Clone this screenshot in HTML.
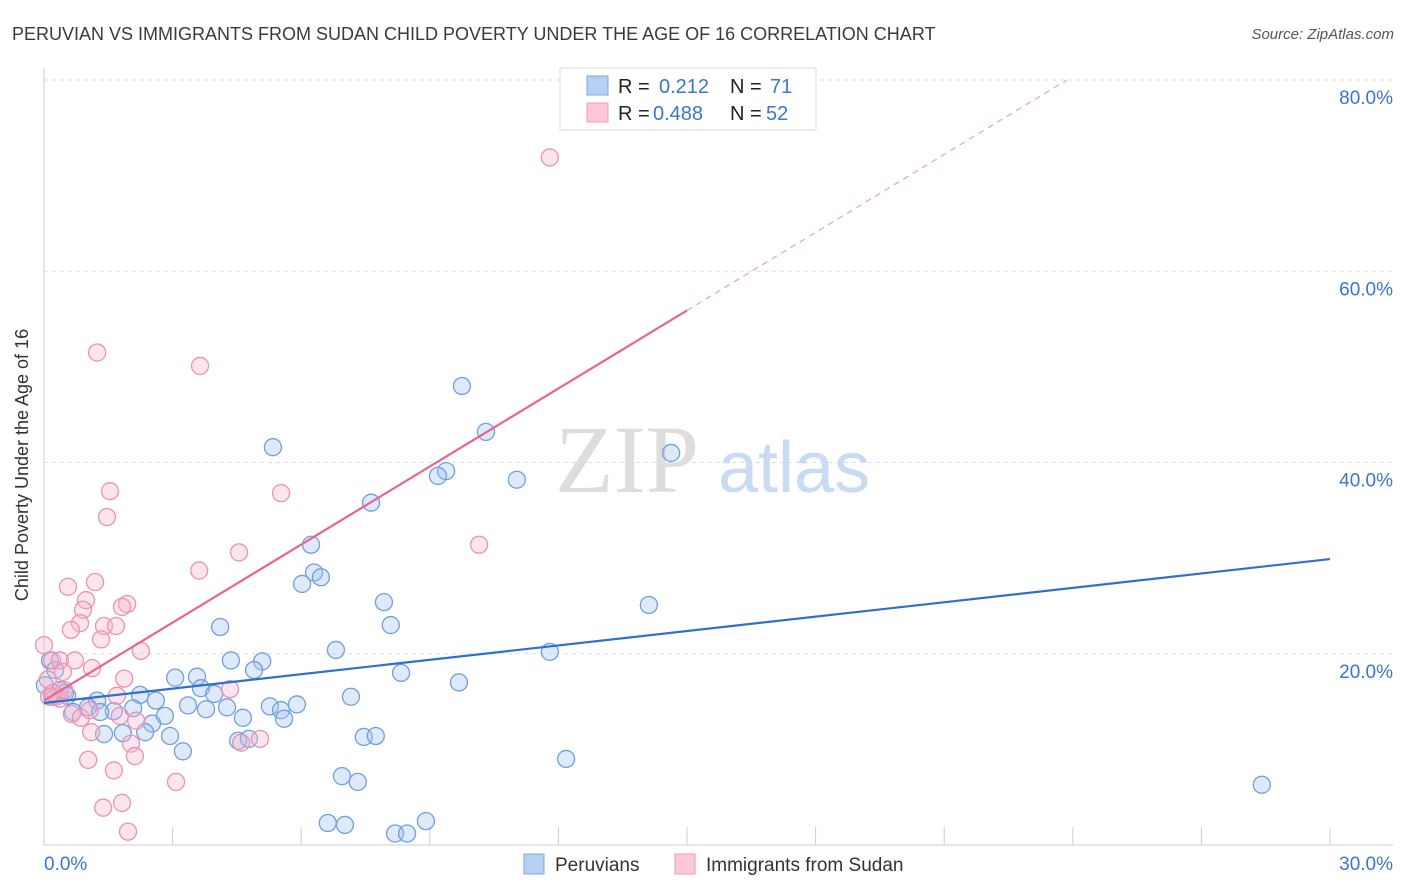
<!DOCTYPE html>
<html><head><meta charset="utf-8"><style>
body{margin:0;background:#fff;font-family:"Liberation Sans",sans-serif;}
svg{display:block}
</style></head><body>
<svg id="chart" width="1406" height="892" viewBox="0 0 1406 892">
<text x="12" y="40" font-size="18" fill="#3a3a3a">PERUVIAN VS IMMIGRANTS FROM SUDAN CHILD POVERTY UNDER THE AGE OF 16 CORRELATION CHART</text>
<text x="1394" y="39" font-size="15" fill="#555" font-style="italic" text-anchor="end">Source: ZipAtlas.com</text>
<g id="grid"></g>
<text x="555" y="492" font-size="96" fill="#ddd" font-family="Liberation Serif,serif">ZIP</text>
<text x="718" y="492" font-size="72" fill="#c9dbf3">atlas</text>
<g id="axes"></g>
<g id="pts"></g>
<g id="lines"></g>
<text x="18" y="455" font-size="18" fill="#333" transform="rotate(-90 28 455)" text-anchor="middle">Child Poverty Under the Age of 16</text>
<g>
<rect x="560" y="68" width="256" height="62" fill="#fff" stroke="#ddd"/>
<rect x="587" y="76" width="21" height="19" fill="#b5d0f3" stroke="#7ea8e0"/>
<rect x="587" y="103" width="21" height="19" fill="#fcc8d8" stroke="#ee9ab5"/>
<text x="618" y="93" font-size="20" fill="#222">R = </text><text x="659" y="93" font-size="20" fill="#3b74d0">0.212</text>
<text x="730" y="93" font-size="20" fill="#222">N = </text><text x="770" y="93" font-size="20" fill="#3b74d0">71</text>
<text x="618" y="120" font-size="20" fill="#222">R = </text><text x="653" y="120" font-size="20" fill="#3b74d0">0.488</text>
<text x="730" y="120" font-size="20" fill="#222">N = </text><text x="766" y="120" font-size="20" fill="#3b74d0">52</text>
</g>
<g>
<rect x="524" y="854" width="20" height="20" fill="#b5d0f3" stroke="#7ea8e0"/>
<text x="555" y="871" font-size="19" fill="#333">Peruvians</text>
<rect x="675" y="854" width="20" height="20" fill="#fcc8d8" stroke="#ee9ab5"/>
<text x="706" y="871" font-size="19" fill="#333">Immigrants from Sudan</text>
</g>
</svg>
<script>
const yTicks=[20,40,60,80];
const yTickLabels=["20.0%","40.0%","60.0%","80.0%"];
const xTickCount=[1,2,3,4,5,6,7,8,9,10];
const blueX=[9.75,10.31,5.34,14.63,9.38,9.19,11.03,7.63,6.23,6.30,6.46,6.02,7.93,14.11,8.09,4.11,6.81,11.80,5.09,4.36,4.90,8.33,3.06,3.57,9.68,3.66,7.16,3.97,2.24,5.90,2.61,3.36,5.27,5.53,5.60,3.78,4.27,1.24,1.63,2.08,2.82,4.64,2.52,0.68,1.03,1.84,1.40,2.36,2.94,4.53,4.78,7.46,7.74,3.24,12.18,6.95,7.32,28.41,6.62,7.02,8.91,8.19,8.47,0.14,0.26,0.37,0.49,0.19,0.54,0.02,1.31];
const blueY=[48.0,43.2,41.6,41.0,39.1,38.6,38.2,35.8,31.4,28.5,28.0,27.3,25.4,25.1,23.0,22.8,20.4,20.2,19.2,19.3,18.3,18.0,17.5,17.6,17.0,16.4,15.5,15.8,15.7,14.7,15.1,14.6,14.5,14.1,13.2,14.2,14.4,15.1,14.0,14.3,13.5,13.3,12.7,13.9,14.4,11.7,11.6,11.8,11.4,10.9,11.1,11.3,11.4,9.8,9.0,7.2,6.6,6.3,2.3,2.1,2.5,1.2,1.2,19.3,18.3,16.2,15.9,15.5,15.6,16.7,13.9];
const pinkX=[11.80,1.24,3.64,1.54,5.53,1.47,4.55,10.15,3.62,0.56,1.19,0.98,1.94,1.82,0.91,0.84,0.63,1.40,1.68,1.33,2.26,0,0.19,0.37,0.72,1.12,0.44,1.87,4.34,1.70,0.28,0.37,0.12,0.65,0.86,2.15,1.10,5.04,4.60,2.03,2.12,1.03,1.63,3.08,1.82,1.38,1.96,0.09,0.47,0.21,1.07,1.77];
const pinkY=[71.9,51.5,50.1,37.0,36.8,34.3,30.6,31.4,28.7,27.0,27.5,25.6,25.2,24.9,24.6,23.2,22.5,22.9,22.9,21.5,20.3,20.9,19.3,19.3,19.3,18.5,18.1,17.4,16.3,15.6,15.5,15.3,15.5,13.7,13.3,13.0,11.8,11.1,10.7,10.6,9.3,8.9,7.8,6.6,4.4,3.9,1.4,17.3,16.2,15.9,14.1,13.5];
const blueTrend=[14.85,29.9];
const pinkTrend=[15.1,55.9];
const NS="http://www.w3.org/2000/svg";
const X0=44,X1=1330,Y0=845,PXY=9.5625;
const sx=v=>X0+(v/30)*(X1-X0);
const sy=v=>Y0-v*PXY;
function mk(tag,attrs,parent){const e=document.createElementNS(NS,tag);for(const k in attrs)e.setAttribute(k,attrs[k]);document.getElementById(parent).appendChild(e);return e;}
yTicks.forEach((t,i)=>{
 const g=mk('line',{x1:X0,x2:1393,y1:sy(t),y2:sy(t),stroke:'#ddd','stroke-dasharray':'4,4'},'grid');
 
 
 const l=mk('text',{x:1393,y:sy(t)+24,'font-size':19,fill:'#3b74d0','text-anchor':'end'},'grid');
 l.textContent=yTickLabels[i];
 
 
});
mk('line',{x1:X0,x2:X0,y1:68,y2:Y0,stroke:'#ccc'},'axes');
mk('line',{x1:X0,x2:1393,y1:Y0,y2:Y0,stroke:'#ccc'},'axes');
xTickCount.forEach(i=>{
 const t=mk('line',{x1:sx(i*3),x2:sx(i*3),y1:Y0,y2:Y0-18,stroke:'#ccc'},'axes');
 
 
});
const xl0=mk('text',{x:X0,y:870,'font-size':19,fill:'#3b74d0'},'axes');xl0.textContent='0.0%';


const xl1=mk('text',{x:1393,y:870,'font-size':19,fill:'#3b74d0','text-anchor':'end'},'axes');xl1.textContent='30.0%';


blueX.forEach((v,i)=>{
 const c=mk('circle',{cx:sx(v),cy:sy(blueY[i]),r:8.5,fill:'rgba(160,195,240,0.35)',stroke:'#6f9fdc','stroke-width':1.3},'pts');
 
 
});
pinkX.forEach((v,i)=>{
 const c=mk('circle',{cx:sx(v),cy:sy(pinkY[i]),r:8.5,fill:'rgba(248,180,202,0.35)',stroke:'#eb92ae','stroke-width':1.3},'pts');
 
 
});
const bl=mk('line',{x1:sx(0),y1:sy(blueTrend[0]),x2:sx(30),y2:sy(blueTrend[1]),stroke:'#2f6fd0','stroke-width':2.2},'lines');


const slope=(pinkTrend[1]-pinkTrend[0])/15;
const pl=mk('line',{x1:sx(0),y1:sy(pinkTrend[0]),x2:sx(15),y2:sy(pinkTrend[1]),stroke:'#e8648f','stroke-width':2.2},'lines');


const xe=(80-pinkTrend[0])/slope;
const pd=mk('line',{x1:sx(15),y1:sy(pinkTrend[1]),x2:sx(xe),y2:sy(80),stroke:'#eaa0b8','stroke-width':1.2,'stroke-dasharray':'6,5'},'lines');


</script>
</body></html>
